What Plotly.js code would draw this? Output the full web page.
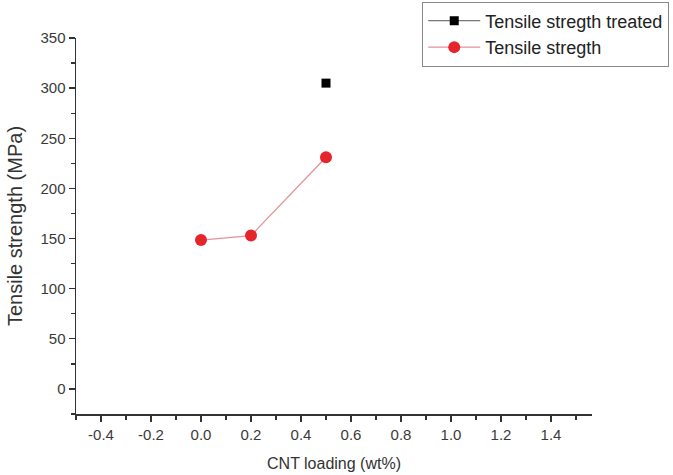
<!DOCTYPE html>
<html>
<head>
<meta charset="utf-8">
<script src="https://cdn.plot.ly/plotly-3.0.1.min.js"></script>
<style>html,body{margin:0;padding:0;background:#fff;}#chart{width:673px;height:475px;}</style>
</head>
<body>
<div id="chart"></div>
<script>
const treatedName = "Tensile stregth treated";
const treatedX = [0.5];
const treatedY = [305];

const untreatedName = "Tensile stregth";
const untreatedX = [0.0, 0.2, 0.5];
const untreatedY = [148.5, 153, 231];

const xTickVals = [-0.4, -0.2, 0.0, 0.2, 0.4, 0.6, 0.8, 1.0, 1.2, 1.4];
const xTickText = ["-0.4", "-0.2", "0.0", "0.2", "0.4", "0.6", "0.8", "1.0", "1.2", "1.4"];
const yTickVals = [0, 50, 100, 150, 200, 250, 300, 350];

const traces = [
  {
    x: treatedX, y: treatedY, name: treatedName, type: "scatter", mode: "lines+markers",
    line: {color: "#555", width: 1},
    marker: {symbol: "square", size: 9, color: "#000"}
  },
  {
    x: untreatedX, y: untreatedY, name: untreatedName, type: "scatter", mode: "lines+markers",
    line: {color: "rgba(220,110,120,0.75)", width: 1.3},
    marker: {symbol: "circle", size: 12, color: "#e4262c"}
  }
];

const fam = "Liberation Sans, Arial, sans-serif";
const axisFont = {family: fam, size: 15, color: "#3a3a3a"};
const layout = {
  width: 673, height: 475,
  margin: {l: 76, r: 81, t: 38, b: 61, autoexpand: false},
  paper_bgcolor: "#fff", plot_bgcolor: "#fff",
  font: {family: fam, color: "#333"},
  showlegend: true,
  legend: {
    x: 0.671, y: 1.097, xanchor: "left", yanchor: "top",
    bordercolor: "#888", borderwidth: 1, bgcolor: "#fff",
    font: {family: fam, size: 18, color: "#222"},
    tracegroupgap: 0, itemwidth: 52
  },
  xaxis: {
    range: [-0.5, 1.564], showgrid: false, zeroline: false,
    showline: true, linecolor: "#333", linewidth: 1.5,
    tickmode: "array", tickvals: xTickVals, ticktext: xTickText,
    ticks: "outside", ticklen: 6, tickcolor: "#333", tickwidth: 1.3,
    minor: {dtick: 0.1, tick0: 0, ticks: "outside", ticklen: 4, tickcolor: "#333", tickwidth: 1.3},
    tickfont: axisFont, automargin: false,
    title: {text: "CNT loading (wt%)", font: {family: fam, size: 16, color: "#333"}, standoff: 16}
  },
  yaxis: {
    range: [-25, 350], showgrid: false, zeroline: false,
    showline: true, linecolor: "#333", linewidth: 1.5,
    tickmode: "array", tickvals: yTickVals,
    ticks: "outside", ticklen: 6, tickcolor: "#333", tickwidth: 1.3,
    minor: {dtick: 25, tick0: 0, ticks: "outside", ticklen: 4, tickcolor: "#333", tickwidth: 1.3},
    tickfont: axisFont, automargin: false,
    title: {text: "Tensile strength (MPa)", font: {family: fam, size: 20, color: "#333"}, standoff: 12}
  }
};

Plotly.newPlot("chart", traces, layout, {displayModeBar: false, staticPlot: true});
</script>
</body>
</html>
